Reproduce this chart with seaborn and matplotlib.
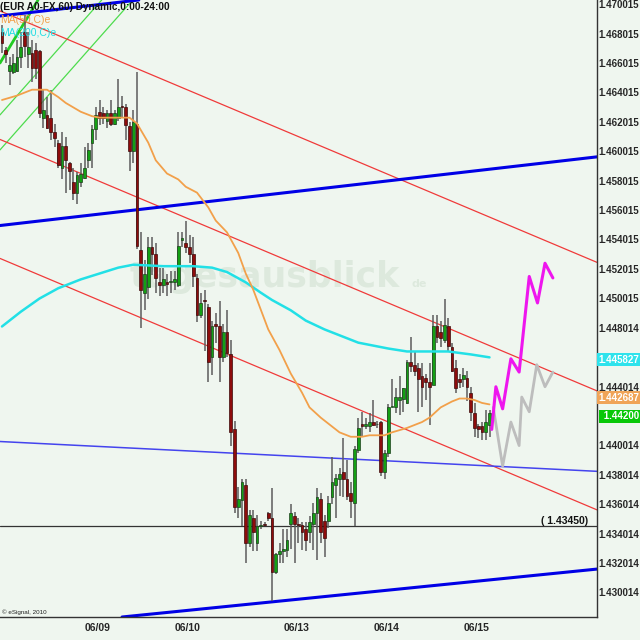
import matplotlib
matplotlib.use("Agg")
import matplotlib.pyplot as plt
import matplotlib.transforms as mtransforms
import pandas as pd
import seaborn as sns

# EUR A0-FX, 60 min candles (bar index 0..130)
opens = [1.4681, 1.4669, 1.4655, 1.4654, 1.4655, 1.4664, 1.4681, 1.4666, 1.4667, 1.4669,
         1.4668, 1.4623, 1.4625, 1.4623, 1.4613, 1.4606, 1.4589, 1.4604, 1.4592, 1.4579,
         1.4572, 1.4579, 1.4582, 1.4594, 1.4606, 1.4615, 1.4627, 1.4626, 1.4621, 1.4626,
         1.4619, 1.4623, 1.4631, 1.4630, 1.4617, 1.4600, 1.4619, 1.4533, 1.4504, 1.4508,
         1.4535, 1.4530, 1.4511, 1.4509, 1.4511, 1.4511, 1.4511, 1.4509, 1.4540, 1.4538,
         1.4535, 1.4530, 1.4514, 1.4489, 1.4499, 1.4494, 1.4460, 1.4483, 1.4481, 1.4460,
         1.4477, 1.4462, 1.4411, 1.4358, 1.4363, 1.4373, 1.4334, 1.4351, 1.4334, 1.4345,
         1.4347, 1.4354, 1.4351, 1.4314, 1.4326, 1.4328, 1.4329, 1.4347, 1.4352, 1.4347,
         1.4346, 1.4343, 1.4341, 1.4347, 1.4354, 1.4364, 1.4349, 1.4349, 1.4365, 1.4373,
         1.4377, 1.4382, 1.4377, 1.4368, 1.4361, 1.4397, 1.4415, 1.4413, 1.4413, 1.4416,
         1.4415, 1.4416, 1.4382, 1.4395, 1.4426, 1.4426, 1.4431, 1.4432, 1.4429, 1.4457,
         1.4455, 1.4453, 1.4447, 1.4446, 1.4443, 1.4441, 1.4481, 1.4477, 1.4472, 1.4481,
         1.4467, 1.4453, 1.4445, 1.4445, 1.4446, 1.4436, 1.4422, 1.4413, 1.4413, 1.4409,
         1.4414]
highs = [1.4686, 1.4671, 1.4664, 1.4666, 1.4676, 1.4681, 1.4693, 1.4681, 1.4676, 1.4674,
         1.4669, 1.4642, 1.4637, 1.4642, 1.4619, 1.4608, 1.4613, 1.4610, 1.4593, 1.4589,
         1.4586, 1.4592, 1.4603, 1.4606, 1.4618, 1.4630, 1.4635, 1.4630, 1.4628, 1.4635,
         1.4628, 1.4649, 1.4638, 1.4632, 1.4620, 1.4628, 1.4654, 1.4545, 1.4526, 1.4542,
         1.4542, 1.4538, 1.4521, 1.4521, 1.4517, 1.4519, 1.4519, 1.4545, 1.4545, 1.4553,
         1.4543, 1.4542, 1.4517, 1.4504, 1.4506, 1.4496, 1.4485, 1.4490, 1.4498, 1.4483,
         1.4492, 1.4472, 1.4417, 1.4372, 1.4377, 1.4377, 1.4356, 1.4356, 1.4353, 1.4349,
         1.4348, 1.4355, 1.4371, 1.4327, 1.4334, 1.4343, 1.4343, 1.4360, 1.4355, 1.4351,
         1.4348, 1.4348, 1.4352, 1.4361, 1.4371, 1.4368, 1.4353, 1.4366, 1.4392, 1.4381,
         1.4385, 1.4405, 1.4390, 1.4375, 1.4400, 1.4419, 1.4423, 1.4419, 1.4422, 1.4431,
         1.4417, 1.4417, 1.4397, 1.4428, 1.4445, 1.4439, 1.4447, 1.4439, 1.4458, 1.4474,
         1.4464, 1.4456, 1.4456, 1.4449, 1.4456, 1.4489, 1.4489, 1.4485, 1.4500, 1.4487,
         1.4470, 1.4458, 1.4449, 1.4453, 1.4451, 1.4440, 1.4429, 1.4415, 1.4416, 1.4424,
         1.4424]
lows = [1.4667, 1.4660, 1.4645, 1.4653, 1.4654, 1.4657, 1.4664, 1.4657, 1.4647, 1.4649,
        1.4623, 1.4616, 1.4615, 1.4608, 1.4603, 1.4589, 1.4581, 1.4572, 1.4574, 1.4567,
        1.4564, 1.4576, 1.4581, 1.4589, 1.4589, 1.4608, 1.4618, 1.4619, 1.4616, 1.4617,
        1.4618, 1.4621, 1.4623, 1.4608, 1.4587, 1.4592, 1.4534, 1.4480, 1.4492, 1.4500,
        1.4516, 1.4504, 1.4502, 1.4504, 1.4502, 1.4504, 1.4506, 1.4508, 1.4535, 1.4531,
        1.4524, 1.4508, 1.4484, 1.4487, 1.4464, 1.4443, 1.4448, 1.4470, 1.4443, 1.4457,
        1.4460, 1.4400, 1.4354, 1.4351, 1.4345, 1.4320, 1.4331, 1.4328, 1.4328, 1.4343,
        1.4345, 1.4349, 1.4294, 1.4313, 1.4320, 1.4320, 1.4324, 1.4330, 1.4320, 1.4334,
        1.4329, 1.4328, 1.4334, 1.4329, 1.4322, 1.4334, 1.4324, 1.4344, 1.4360, 1.4351,
        1.4366, 1.4365, 1.4363, 1.4351, 1.4345, 1.4395, 1.4406, 1.4411, 1.4409, 1.4413,
        1.4412, 1.4379, 1.4377, 1.4392, 1.4426, 1.4422, 1.4421, 1.4423, 1.4428, 1.4450,
        1.4447, 1.4423, 1.4426, 1.4431, 1.4414, 1.4441, 1.4470, 1.4467, 1.4470, 1.4464,
        1.4450, 1.4436, 1.4439, 1.4440, 1.4430, 1.4417, 1.4406, 1.4405, 1.4404, 1.4404,
        1.4406]
closes = [1.4674, 1.4666, 1.4659, 1.4660, 1.4664, 1.4671, 1.4672, 1.4671, 1.4657, 1.4657,
          1.4626, 1.4628, 1.4616, 1.4613, 1.4609, 1.4591, 1.4604, 1.4594, 1.4587, 1.4572,
          1.4584, 1.4585, 1.4589, 1.4601, 1.4615, 1.4625, 1.4623, 1.4623, 1.4626, 1.4619,
          1.4626, 1.4630, 1.4630, 1.4618, 1.4600, 1.4620, 1.4536, 1.4506, 1.4517, 1.4535,
          1.4530, 1.4514, 1.4509, 1.4513, 1.4510, 1.4512, 1.4513, 1.4536, 1.4541, 1.4535,
          1.4530, 1.4515, 1.4489, 1.4497, 1.4498, 1.4457, 1.4481, 1.4481, 1.4460, 1.4477,
          1.4463, 1.4409, 1.4358, 1.4364, 1.4375, 1.4334, 1.4353, 1.4341, 1.4345, 1.4346,
          1.4346, 1.4351, 1.4314, 1.4326, 1.4328, 1.4330, 1.4336, 1.4354, 1.4347, 1.4346,
          1.4341, 1.4336, 1.4348, 1.4354, 1.4365, 1.4341, 1.4337, 1.4361, 1.4375, 1.4378,
          1.4381, 1.4377, 1.4366, 1.4362, 1.4398, 1.4412, 1.4413, 1.4415, 1.4416, 1.4414,
          1.4415, 1.4382, 1.4395, 1.4426, 1.4427, 1.4433, 1.4433, 1.4439, 1.4457, 1.4454,
          1.4451, 1.4445, 1.4440, 1.4443, 1.4440, 1.4481, 1.4474, 1.4473, 1.4482, 1.4468,
          1.4451, 1.4439, 1.4443, 1.4448, 1.4440, 1.4423, 1.4412, 1.4411, 1.4409, 1.4416,
          1.4422]

# moving averages at some bar positions
ma50_bar = [0, 4, 8, 12, 15, 17, 21, 24, 26, 34, 36, 39, 41, 44, 47, 49, 52, 55, 57, 60,
            63, 65, 67, 71, 74, 77, 80, 82, 85, 88, 90, 93, 96, 98, 102, 104, 108, 112, 114, 117,
            120, 122, 124, 126, 128, 130]
ma50_val = [1.4635, 1.4638, 1.4642, 1.4642, 1.4637, 1.4633, 1.4627, 1.4624, 1.4623, 1.4623,
            1.4619, 1.4606, 1.4594, 1.4585, 1.4581, 1.4576, 1.4572, 1.4562, 1.4553, 1.4545,
            1.4531, 1.4517, 1.4506, 1.4479, 1.4465, 1.4449, 1.4436, 1.4426, 1.4419, 1.4413,
            1.4409, 1.4406, 1.4406, 1.4407, 1.4407, 1.4409, 1.4412, 1.4416, 1.4419, 1.4426,
            1.4430, 1.4432, 1.4432, 1.4431, 1.4429, 1.4428]
ma200_bar = [0, 5, 10, 15, 21, 26, 31, 35, 43, 51, 56, 60, 65, 69, 72, 77, 81, 86, 90, 95,
             99, 103, 108, 115, 119, 125, 130]
ma200_val = [1.4481, 1.4491, 1.4500, 1.4507, 1.4513, 1.4517, 1.4521, 1.4523, 1.4522, 1.4522,
             1.4521, 1.4518, 1.4511, 1.4504, 1.4499, 1.4492, 1.4485, 1.4479, 1.4475, 1.4470,
             1.4468, 1.4466, 1.4464, 1.4464, 1.4464, 1.4462, 1.4460]

# projected paths
bull_bar = [130.6, 131.7, 133.5, 135.7, 137.9, 140.6, 142.8, 144.8, 146.9]
bull_val = [1.4411, 1.4440, 1.4425, 1.4459, 1.4450, 1.4515, 1.4497, 1.4524, 1.4514]
alt_bar = [131.0, 133.5, 135.7, 137.9, 138.6, 140.6, 142.6, 144.8, 146.9]
alt_val = [1.4426, 1.4386, 1.4416, 1.4400, 1.4433, 1.4423, 1.4455, 1.4440, 1.4450]

# trend lines, two (bar, price) points each
red_channel = [((0, 1.46950), (150, 1.45339)),
               ((0, 1.46076), (150, 1.44465)),
               ((0, 1.45267), (150, 1.43656))]
blue_thick = [((0, 1.46923), (150, 1.47363)),
              ((0, 1.45498), (150, 1.45938)),
              ((0, 1.42752), (150, 1.43138))]
blue_thin = [((0, 1.44027), (150, 1.43836))]
green_thick = [((0, 1.46624), (8, 1.46962))]
green_thin = [((0, 1.46264), (20, 1.46840)),
              ((0, 1.46026), (20, 1.46602))]

support = 1.43450
last_ma200 = 1.445827
last_ma50 = 1.442687
last_close = 1.44200

date_ticks = [22, 46, 75, 99, 123]
date_labels = ["06/09", "06/10", "06/13", "06/14", "06/15"]
price_labels = ["1.470015", "1.468015", "1.466015", "1.464015", "1.462015", "1.460015",
                "1.458015", "1.456015", "1.454015", "1.452015", "1.450015", "1.448014",
                "1.446014", "1.444014", "1.442014", "1.440014", "1.438014", "1.436014",
                "1.434014", "1.432014", "1.430014"]

BG = "#eff6ef"
sns.set_style("white")
plt.rcParams["font.family"] = ["Liberation Sans", "DejaVu Sans"]

df = pd.DataFrame({"bar": range(len(opens)), "open": opens, "high": highs,
                   "low": lows, "close": closes})
up = df[df.close >= df.open]
down = df[df.close < df.open]

fig = plt.figure(figsize=(6.4, 6.4), dpi=100, facecolor=BG)
ax = fig.add_axes([0, 23 / 640, 597 / 640, 617 / 640], facecolor=BG)

# watermark
ax.text(0.67, 0.535, "tagesausblick", transform=ax.transAxes, ha="right", va="baseline",
        fontsize=25, fontweight="bold", color="#dde9dd", family="DejaVu Sans", zorder=0)
ax.text(0.69, 0.535, "de", transform=ax.transAxes, ha="left", va="baseline",
        fontsize=8, fontweight="bold", color="#dde9dd", family="DejaVu Sans", zorder=0)

for p1, p2 in green_thin:
    ax.axline(p1, p2, color="#4ddc4d", lw=0.9, zorder=1)
for p1, p2 in green_thick:
    ax.axline(p1, p2, color="#22cc22", lw=2, zorder=1)
for p1, p2 in red_channel:
    ax.axline(p1, p2, color="#f03a3a", lw=0.9, zorder=1)
for p1, p2 in blue_thin:
    ax.axline(p1, p2, color="#4444ee", lw=1.1, zorder=1)
for p1, p2 in blue_thick:
    ax.axline(p1, p2, color="#0000e6", lw=2.2, zorder=1)
ax.axhline(support, color="#333333", lw=0.9, zorder=1)

# candles
ax.vlines(df.bar, df.low, df.high, color="#5c5c5c", lw=1.1, zorder=3)
ax.bar(up.bar, up.close - up.open, bottom=up.open, width=0.75,
       color="#14a014", edgecolor="#1c3c1c", lw=0.5, zorder=4)
ax.bar(down.bar, down.close - down.open, bottom=down.open, width=0.75,
       color="#8e0c0c", edgecolor="#3a0a0a", lw=0.5, zorder=4)

# moving averages and projections
sns.lineplot(x=ma200_bar, y=ma200_val, ax=ax, color="#22e0e6", lw=1.8, zorder=5)
sns.lineplot(x=ma50_bar, y=ma50_val, ax=ax, color="#f2a04a", lw=1.3, zorder=5)
sns.lineplot(x=alt_bar, y=alt_val, ax=ax, color="#bdbdbd", lw=2.0, zorder=5)
sns.lineplot(x=bull_bar, y=bull_val, ax=ax, color="#ee16ee", lw=2.2, zorder=6)

ax.set_xlim(-2 / 3.75, 595 / 3.75)
ax.set_ylim(1.4703 - 617 * 0.000068, 1.4703)

for s in ["top", "left"]:
    ax.spines[s].set_visible(False)
for s in ["right", "bottom"]:
    ax.spines[s].set_color("#333333")
    ax.spines[s].set_linewidth(1)

ax.yaxis.tick_right()
ax.set_yticks([float(t) for t in price_labels])
ax.set_yticklabels(price_labels, fontsize=7, fontweight="bold")
ax.tick_params(axis="y", length=0, pad=1)
ax.set_xticks(date_ticks)
ax.set_xticklabels(date_labels, fontsize=7.5, fontweight="bold", ha="left")
ax.tick_params(axis="x", length=3, pad=1, color="#666666")
ax.set_xlabel("")
ax.set_ylabel("")

# the value boxes sit on top of these two scale labels, as in the original
for lbl in ax.get_yticklabels():
    if lbl.get_text() in ("1.446014", "1.442014"):
        lbl.set_visible(False)

# right side value boxes
trans = mtransforms.blended_transform_factory(ax.transAxes, ax.transData)
box_kw = dict(transform=trans, ha="left", va="center", fontsize=7, fontweight="bold",
              color="white", clip_on=False, zorder=10)
ax.text(1.002, last_ma200, f"{last_ma200:.6f}",
        bbox=dict(boxstyle="square,pad=0.15", fc="#2ee3ec", ec="none"), **box_kw)
ma50_txt = ax.text(1.002, last_ma50, f"{last_ma50:.6f}",
                   bbox=dict(boxstyle="square,pad=0.15", fc="#f0a458", ec="none"), **box_kw)
ma50_txt.set_transform(trans + mtransforms.ScaledTranslation(0, 6 / 72, fig.dpi_scale_trans))
ax.text(1.006, last_close, f" {last_close:.5f}",
        bbox=dict(boxstyle="square,pad=0.15", fc="#08c808", ec="none"), **box_kw)

ax.text(0.985, support, "( 1.43450)", transform=trans, ha="right", va="bottom",
        fontsize=7.5, fontweight="bold", color="#111111", zorder=6)

# header and indicator names
ax.text(0.0, 0.996, "(EUR A0-FX,60) Dynamic,0:00-24:00", transform=ax.transAxes,
        ha="left", va="top", fontsize=7.2, fontweight="bold", color="#111111", zorder=7)
ax.text(0.0, 0.975, "MA(50,C)e", transform=ax.transAxes, ha="left", va="top",
        fontsize=7.5, color="#f2a04a", zorder=7)
ax.text(0.0, 0.955, "MA(200,C)e", transform=ax.transAxes, ha="left", va="top",
        fontsize=7.5, color="#22dde3", zorder=7)
ax.text(0.003, 0.004, "\u00a9 eSignal, 2010", transform=ax.transAxes, ha="left",
        va="bottom", fontsize=4.5, color="#222222", zorder=7)

fig.savefig("out.png", dpi=100, facecolor=BG)
